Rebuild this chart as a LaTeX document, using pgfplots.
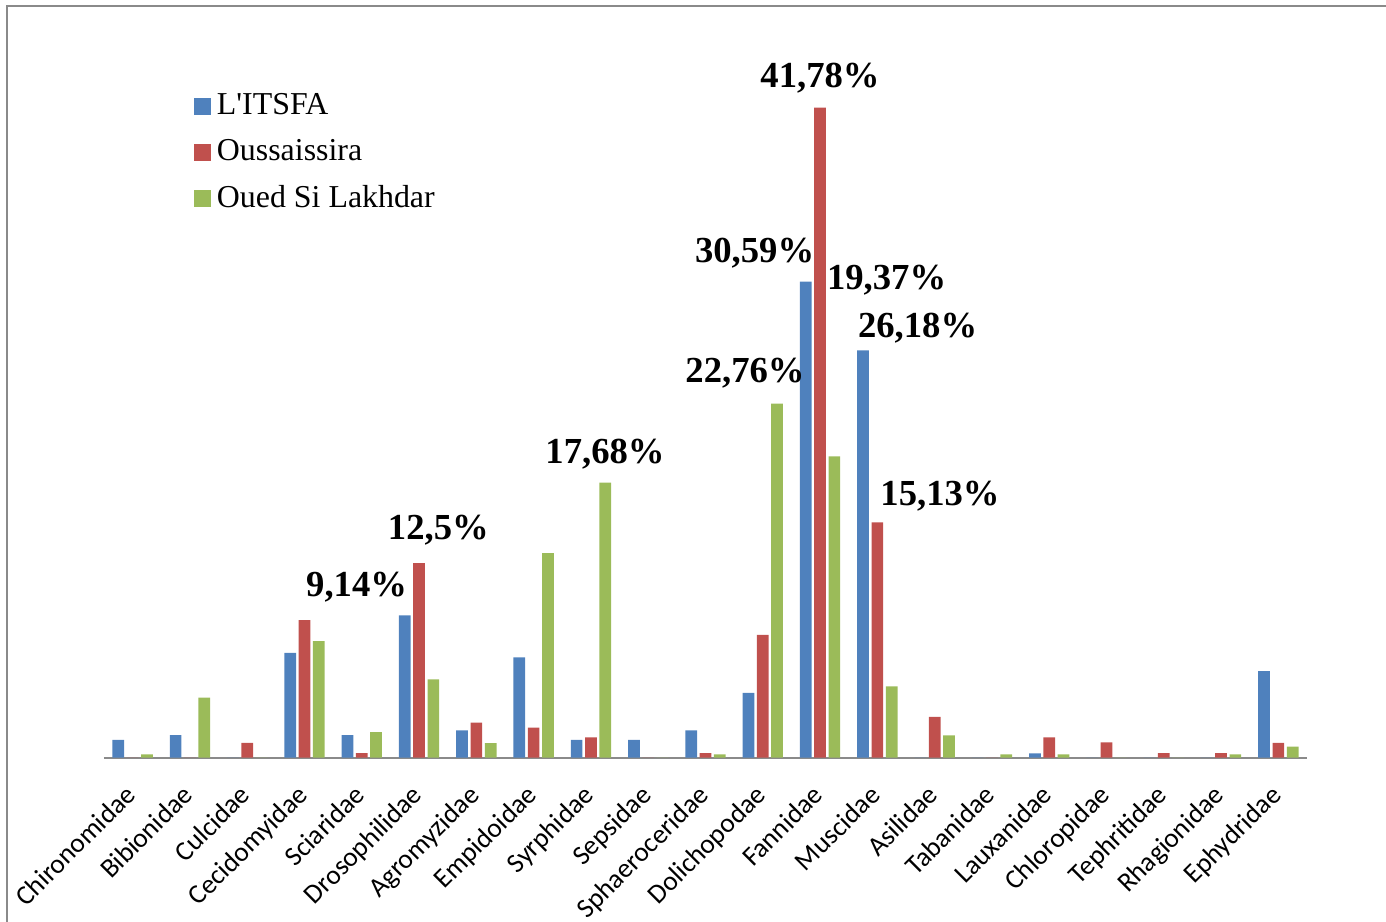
\documentclass[border=0pt]{standalone}
\usepackage{fontspec}
\setmainfont{Liberation Serif}
\newfontfamily\carlito{Carlito}
\usepackage{pgfplots}
\usepackage{pgfplotstable}
\pgfplotsset{compat=1.18}

\definecolor{sBlue}{HTML}{4F81BD}
\definecolor{sRed}{HTML}{C0504D}
\definecolor{sGreen}{HTML}{9BBB59}
\definecolor{frameGray}{HTML}{8A8A8A}

% Relative abundance (%) of Diptera families at the three stations
\pgfplotstableread{
idx itsfa ouss oued
0  1.14  0.00  0.21
1  1.45  0.00  3.86
2  0.00  0.95  0.00
3  6.74  8.84  7.49
4  1.45  0.29  1.64
5  9.14 12.50  5.04
6  1.75  2.26  0.93
7  6.44  1.94 13.15
8  1.14  1.31 17.68
9  1.14  0.00  0.00
10 1.75  0.29  0.21
11 4.16  7.89 22.76
12 30.59 41.78 19.37
13 26.18 15.13 4.59
14 0.00  2.62  1.44
15 0.00  0.00  0.21
16 0.28  1.31  0.21
17 0.00  0.99  0.00
18 0.00  0.29  0.00
19 0.00  0.29  0.21
20 5.57  0.96  0.71
}\famdata

% square legend key sitting on the text baseline, padded to the text height
\pgfplotsset{sqkey/.style={legend image code/.code={
  \path[fill=none, draw=none] (0bp,-8bp) rectangle (8.3bp,7bp);
  \fill[#1] (0bp,-3.5bp) rectangle (8.3bp,4.8bp);}}}

\begin{document}
\begin{tikzpicture}
\useasboundingbox (0,0) rectangle (693bp,461bp);
\draw[frameGray, line width=0.85bp] (3.5bp,-2bp) -- (3.5bp,458bp) -- (700bp,458bp);
\begin{axis}[
  at={(52bp,82.15bp)}, anchor=south west,
  scale only axis, width=601.5bp, height=350.1bp,
  xmin=-0.5, xmax=20.5, ymin=0, ymax=45,
  ybar=1.3bp, bar width=5.85bp,
  axis x line*=bottom, axis y line=none,
  x axis line style={draw=frameGray, line width=0.85bp, -},
  major tick length=0pt,
  xtick={0,...,20},
  xticklabels={Chironomidae, Bibionidae, Culcidae, Cecidomyidae, Sciaridae,
    Drosophilidae, Agromyzidae, Empidoidae, Syrphidae, Sepsidae,
    Sphaeroceridae, Dolichopodae, Fannidae, Muscidae, Asilidae, Tabanidae,
    Lauxanidae, Chloropidae, Tephritidae, Rhagionidae, Ephydridae},
  xticklabel style={xshift=-4.5bp, yshift=-12.5bp, rotate=45, anchor=north east,
    inner sep=0pt, font=\carlito\fontsize{13.7}{16}\selectfont},
  clip=false,
  legend cell align=left,
  legend style={at={(axis description cs:0.0748,0.9503)}, anchor=north west,
    draw=none, fill=none, inner sep=0pt, row sep=7.6bp, column sep=3bp,
    font=\fontsize{16}{19}\selectfont,
    nodes={inner sep=0pt, text height=11bp, text depth=4bp}},
]
\addplot[fill=sBlue, draw=none, sqkey=sBlue]
  table[x=idx, y=itsfa] {\famdata};
\addplot[fill=sRed, draw=none, sqkey=sRed]
  table[x=idx, y=ouss] {\famdata};
\addplot[fill=sGreen, draw=none, sqkey=sGreen]
  table[x=idx, y=oued] {\famdata};
\legend{L\textquotesingle ITSFA, Oussaissira, Oued Si Lakhdar}
\end{axis}

% value callouts for the largest bars
\begin{scope}[every node/.style={anchor=base, inner sep=0pt,
    font=\bfseries\fontsize{18.4}{22}\selectfont}]
  \node at (410bp,417.3bp)   {41,78\%};
  \node at (377.3bp,329.8bp) {30,59\%};
  \node at (443.3bp,316bp)   {19,37\%};
  \node at (458.8bp,292.2bp) {26,18\%};
  \node at (372.5bp,269.5bp) {22,76\%};
  \node at (302.5bp,229.3bp) {17,68\%};
  \node at (470bp,208bp)     {15,13\%};
  \node at (219.2bp,191bp)   {12,5\%};
  \node at (178.3bp,162.7bp) {9,14\%};
\end{scope}
\end{tikzpicture}
\end{document}
